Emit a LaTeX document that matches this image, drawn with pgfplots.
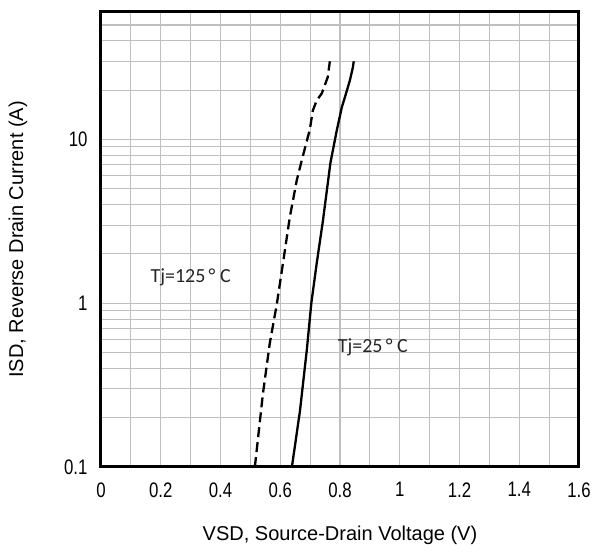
\documentclass[border=0pt]{standalone}
\usepackage{fontspec}
\setmainfont{Liberation Sans}
\newfontfamily\narrowfont[FakeStretch=0.8]{Liberation Sans}
\newfontfamily\calfont{Carlito}
\usepackage{pgfplots}
\pgfplotsset{compat=1.18}
\usetikzlibrary{calc}

\begin{document}
\begin{tikzpicture}
\begin{axis}[
    name=ax,
    scale only axis,
    width=478pt, height=455pt,
    xmin=0, xmax=1.6,
    ymode=log, ymin=0.1, ymax=60,
    xtick={0,0.2,0.4,0.6,0.8,1,1.2,1.4,1.6},
    xticklabels={0,0.2,0.4,0.6,0.8,1,1.2,1.4,1.6},
    minor xtick={0.1,0.3,0.5,0.7,0.9,1.1,1.3,1.5},
    ytick={0.1,1,10},
    yticklabels={0.1,1,10},
    minor ytick={0.2,0.3,0.4,0.5,0.6,0.7,0.8,0.9,2,3,4,5,6,7,8,9,20,30,40,50},
    grid=both,
    major grid style={draw=gray!50, line width=1.1pt},
    minor grid style={draw=gray!50, line width=1.1pt},
    axis line style={draw=none},
    major tick length=0pt, minor tick length=0pt,
    ticklabel style={font=\narrowfont\fontsize{21}{24}\selectfont},
    xticklabel style={yshift=-12pt},
    yticklabel style={xshift=-10pt},
    xlabel={VSD, Source-Drain Voltage (V)},
    ylabel={ISD, Reverse Drain Current (A)},
    label style={font=\fontsize{20}{24}\selectfont},
    xlabel style={at={(axis description cs:0.5,-0.1495)}, anchor=center},
    ylabel style={at={(axis description cs:-0.1736,0.5)}, anchor=center},
  ]

  % Tj = 125 C (dashed)
  \addplot[black, line width=2.3pt, dash pattern=on 10pt off 5pt] coordinates {
    (0.515,0.1) (0.542,0.28) (0.565,0.57) (0.589,1.0) (0.609,1.75)
    (0.632,3.35) (0.655,5.6) (0.672,7.45) (0.699,11.5) (0.709,15)
    (0.722,17.3) (0.739,19.1) (0.759,24) (0.766,30)
  };

  % Tj = 25 C (solid)
  \addplot[black, line width=2.3pt] coordinates {
    (0.639,0.1) (0.666,0.22) (0.689,0.52) (0.704,1.0) (0.722,1.75)
    (0.743,3.2) (0.768,7.2) (0.789,11.3) (0.806,15.7) (0.816,18)
    (0.833,22.9) (0.843,27.5) (0.846,30)
  };

  \node[font=\calfont\fontsize{20}{24}\selectfont, text=black!85] at (axis cs:0.30,1.44) {Tj=125\,°\ C};
  \node[font=\calfont\fontsize{20}{24}\selectfont, text=black!85] at (axis cs:0.91,0.54) {Tj=25\,°\ C};
\end{axis}
\draw[black, line width=3pt] (ax.south west) -- (ax.south east) -- (ax.north east) -- (ax.north west) -- cycle;
\path ($(ax.south west)+(-101pt,-85pt)$) rectangle ($(ax.north east)+(15pt,12pt)$);
\end{tikzpicture}
\end{document}
